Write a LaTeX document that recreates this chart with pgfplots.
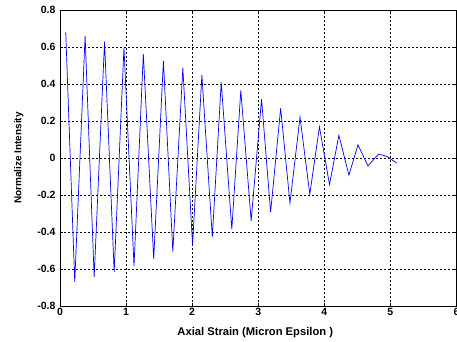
\documentclass[border=0pt]{standalone}
\usepackage{pgfplots}
\pgfplotsset{compat=1.18}
\usepackage{fontspec}
\setmainfont{Liberation Sans}
\begin{document}
\begin{tikzpicture}
\begin{axis}[
  at={(0,0)}, anchor=south west,
  width=396.5pt, height=295.7pt, scale only axis,
  xmin=0, xmax=6, ymin=-0.8, ymax=0.8,
  xtick={0,1,2,3,4,5,6},
  xticklabels={0,1,2,3,4,5,6},
  ytick={-0.8,-0.6,-0.4,-0.2,0,0.2,0.4,0.6,0.8},
  yticklabels={-0.8,-0.6,-0.4,-0.2,0,0.2,0.4,0.6,0.8},
  tick align=inside,
  major tick length=3pt,
  tick style={black, line width=0.5pt},
  grid=major,
  major grid style={black, line width=0.5pt, dash pattern=on 2pt off 2pt},
  axis line style={black, line width=0.8pt},
  ticklabel style={font=\fontsize{10.5}{12}\selectfont\bfseries},
  xlabel={Axial Strain (Micron Epsilon )},
  ylabel={Normalize Intensity},
  xlabel style={font=\fontsize{11.2}{13}\selectfont\bfseries, yshift=-5pt, xshift=-3pt},
  ylabel style={font=\fontsize{10}{12}\selectfont\bfseries, yshift=7pt},
  xticklabel style={yshift=1pt},
  yticklabel style={xshift=-1pt},
]
\addplot[color={rgb,255:red,0;green,0;blue,255}, line width=0.7pt] coordinates {
(0.087,0.681)
(0.223,-0.670)
(0.38,0.661)
(0.517,-0.643)
(0.674,0.630)
(0.82,-0.615)
(0.968,0.598)
(1.12,-0.584)
(1.261,0.564)
(1.418,-0.546)
(1.565,0.526)
(1.707,-0.506)
(1.859,0.488)
(2.006,-0.470)
(2.147,0.450)
(2.305,-0.427)
(2.44,0.410)
(2.60,-0.384)
(2.736,0.366)
(2.893,-0.339)
(3.05,0.319)
(3.187,-0.292)
(3.339,0.270)
(3.48,-0.243)
(3.632,0.222)
(3.78,-0.195)
(3.926,0.169)
(4.078,-0.143)
(4.22,0.124)
(4.372,-0.092)
(4.509,0.072)
(4.66,-0.042)
(4.82,0.022)
(4.95,0.009)
(5.1,-0.027)
};
\end{axis}
\pgfresetboundingbox
\path (-60pt,-36pt) rectangle (397pt,306pt);
\end{tikzpicture}
\end{document}
